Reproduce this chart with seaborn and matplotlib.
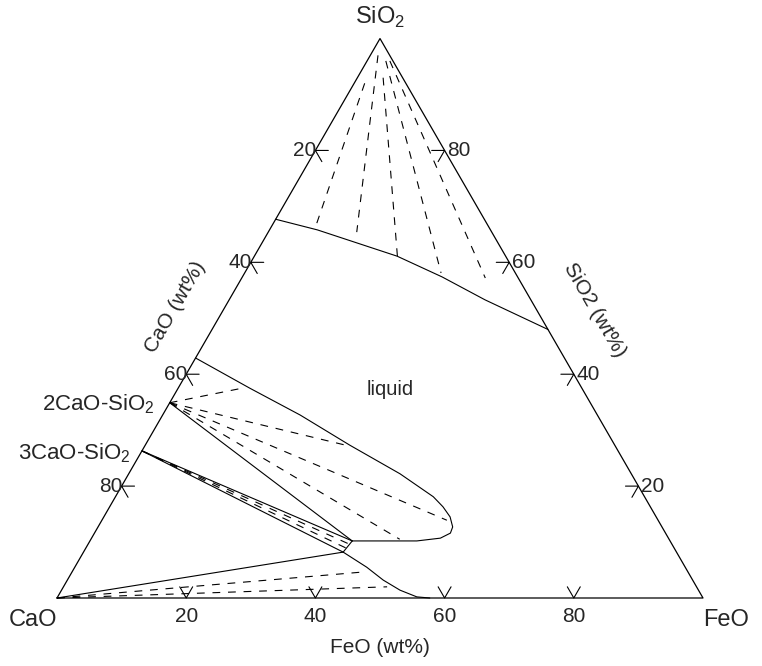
import numpy as np
import matplotlib
matplotlib.use("Agg")
import matplotlib.pyplot as plt
import seaborn as sns

sns.set_style("white")
plt.rcParams['font.family'] = ['Liberation Sans', 'DejaVu Sans']
plt.rcParams['mathtext.fontset'] = 'custom'
plt.rcParams['mathtext.rm'] = 'Liberation Sans'

# compositions in wt% (FeO, SiO2); CaO is the rest
ticks = [20, 40, 60, 80]

# SiO2 saturation boundary
sio2_bnd_feo = [0, 7.4, 22.1, 30.9, 39.6, 52.0]
sio2_bnd_sio2 = [67.7, 65.8, 61.1, 57.4, 53.3, 48.0]

# tie lines from SiO2 corner (end points)
sio2_tie_feo = [6.9, 13.7, 22.2, 30.4, 37.7]
sio2_tie_sio2 = [66.1, 65.4, 61.0, 58.1, 57.2]
sio2_tie_start = [0.92, 0.97, 0.93, 0.96, 0.96]  # SiO2 fraction where dashes begin

# liquid lens around 2CaO-SiO2 region
lens_feo = [0, 11.1, 21.3, 31.7, 42.0, 49.2, 51.6, 53.6, 54.9, 55.1, 54.0, 50.6, 45.4, 40.6]
lens_sio2 = [42.9, 37.5, 32.7, 27.3, 22.2, 18.1, 16.3, 14.5, 12.7, 11.6, 10.7, 10.2, 10.2, 10.2]

# compounds on the CaO-SiO2 side
c2s = (0, 34.9)
c3s = (0, 26.3)
node_a = (40.6, 10.2)
node_b = (40.2, 8.2)

# tie lines from 2CaO-SiO2
c2s_tie_feo = [9.9, 31.5, 53.4, 47.8]
c2s_tie_sio2 = [37.5, 27.2, 13.9, 10.5]

# tie lines from 3CaO-SiO2
c3s_tie_feo = [40.5, 40.35]
c3s_tie_sio2 = [9.6, 8.9]

# tie lines from CaO corner
cao_tie_feo = [44.6, 50.1]
cao_tie_sio2 = [4.6, 2.0]

# CaO saturation boundary
cao_bnd_feo = [40.2, 45.2, 48.9, 52.4, 54.8, 55.6, 57.7]
cao_bnd_sio2 = [8.2, 5.5, 3.2, 1.4, 0.5, 0.2, 0.0]

H = np.sqrt(3) / 2


def xy(feo, sio2):
    feo = np.asarray(feo, float) / 100
    sio2 = np.asarray(sio2, float) / 100
    return feo + sio2 / 2, sio2 * H


def line(ax, feo, sio2, dashed=False, lw=0.8):
    x, y = xy(feo, sio2)
    ls = (0, (7, 7)) if dashed else '-'
    sns.lineplot(x=x, y=y, sort=False, estimator=None, color='k',
                 linewidth=lw, linestyle=ls, ax=ax)


fig = plt.figure(figsize=(7.62, 6.66), dpi=100)
ax = fig.add_axes([0, 0, 1, 1])
ax.set_xlim(-57 / 646, 705 / 646)
ax.set_ylim(-68 / 646, 598 / 646)
ax.set_aspect('equal')
ax.axis('off')

# triangle
line(ax, [0, 100, 0, 0], [0, 0, 100, 0], lw=0.9)

# ticks
L = 0.02
for t in ticks:
    # FeO axis (bottom)
    x0, y0 = xy(t, 0)
    ax.plot([x0 - L / 2, x0, x0 + L / 2], [y0 + L * H, y0, y0 + L * H], color='k', lw=0.8)
    ax.text(x0, y0 - 0.014, str(t), ha='center', va='top', fontsize=15)
    # CaO axis (left edge), CaO = t
    x0, y0 = xy(0, 100 - t)
    ax.plot([x0 + L, x0, x0 + L / 2], [y0, y0, y0 - L * H], color='k', lw=0.8)
    ax.text(x0 + 0.002, y0, str(t), ha='right', va='center', fontsize=15)
    # SiO2 axis (right edge), SiO2 = t
    x0, y0 = xy(100 - t, t)
    ax.plot([x0 - L, x0, x0 - L / 2], [y0, y0, y0 - L * H], color='k', lw=0.8)
    ax.text(x0 + 0.004, y0, str(t), ha='left', va='center', fontsize=15)

# SiO2 region
line(ax, sio2_bnd_feo, sio2_bnd_sio2)
for f, s, k in zip(sio2_tie_feo, sio2_tie_sio2, sio2_tie_start):
    u = (100 - 100 * k) / (100 - s)
    line(ax, [u * f, f], [100 - u * (100 - s), s], dashed=True)

# 2CaO-SiO2 + liquid
line(ax, lens_feo, lens_sio2)
line(ax, [c2s[0], node_a[0]], [c2s[1], node_a[1]])
for f, s in zip(c2s_tie_feo, c2s_tie_sio2):
    line(ax, [c2s[0], f], [c2s[1], s], dashed=True)

# 3CaO-SiO2 band
line(ax, [c3s[0], node_a[0]], [c3s[1], node_a[1]])
line(ax, [c3s[0], node_b[0]], [c3s[1], node_b[1]])
line(ax, [node_a[0], node_b[0]], [node_a[1], node_b[1]])
for f, s in zip(c3s_tie_feo, c3s_tie_sio2):
    line(ax, [c3s[0], f], [c3s[1], s], dashed=True)

# CaO + liquid
line(ax, [0, node_b[0]], [0, node_b[1]])
line(ax, cao_bnd_feo, cao_bnd_sio2)
for f, s in zip(cao_tie_feo, cao_tie_sio2):
    line(ax, [0, f], [0, s], dashed=True)

# labels
ax.text(0.5, 0.899, 'SiO$_2$', ha='center', va='center', fontsize=17)
ax.text(-0.037, -0.034, 'CaO', ha='center', va='center', fontsize=17)
ax.text(1.036, -0.034, 'FeO', ha='center', va='center', fontsize=17)
ax.text(0.5, -0.077, 'FeO (wt%)', ha='center', va='center', fontsize=15)
ax.text(0.1827, 0.4505, 'CaO (wt%)', ha='center', va='center', fontsize=15, rotation=60)
ax.text(0.833, 0.446, 'SiO2 (wt%)', ha='center', va='center', fontsize=15, rotation=-60)
ax.text(0.5155, 0.322, 'liquid', ha='center', va='center', fontsize=14.5)
x0, y0 = xy(*c2s)
ax.text(x0 - 0.024, y0 - 0.003, '2CaO-SiO$_2$', ha='right', va='center', fontsize=16)
x0, y0 = xy(*c3s)
ax.text(x0 - 0.018, y0 - 0.003, '3CaO-SiO$_2$', ha='right', va='center', fontsize=16)

fig.savefig('out.png', dpi=100)
